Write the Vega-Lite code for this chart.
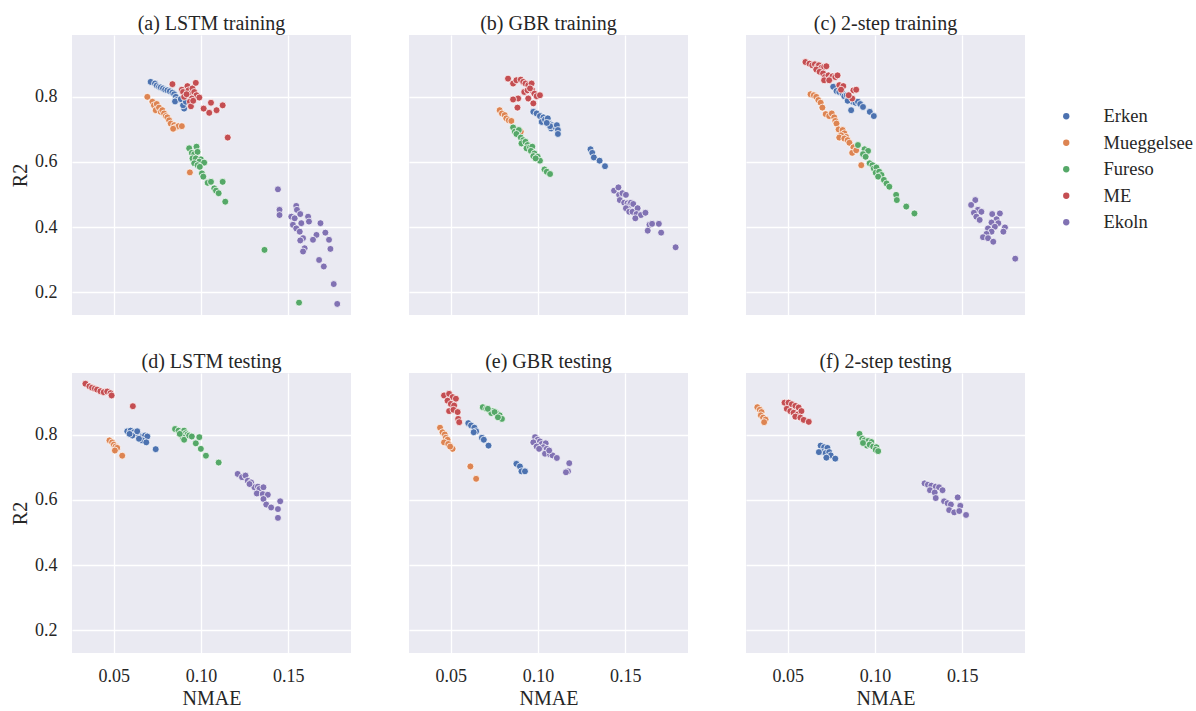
{
  "$schema": "https://vega.github.io/schema/vega-lite/v6.json",
  "background": "white",
  "padding": {"left": 10, "top": 14, "right": 5, "bottom": 5},
  "data": {"values": [
    {"panel": "(a) LSTM training", "lake": "Erken", "NMAE": 0.0711, "R2": 0.846},
    {"panel": "(a) LSTM training", "lake": "Erken", "NMAE": 0.0736, "R2": 0.841},
    {"panel": "(a) LSTM training", "lake": "Erken", "NMAE": 0.0746, "R2": 0.835},
    {"panel": "(a) LSTM training", "lake": "Erken", "NMAE": 0.0759, "R2": 0.831},
    {"panel": "(a) LSTM training", "lake": "Erken", "NMAE": 0.0769, "R2": 0.829},
    {"panel": "(a) LSTM training", "lake": "Erken", "NMAE": 0.0782, "R2": 0.826},
    {"panel": "(a) LSTM training", "lake": "Erken", "NMAE": 0.0794, "R2": 0.822},
    {"panel": "(a) LSTM training", "lake": "Erken", "NMAE": 0.0807, "R2": 0.82},
    {"panel": "(a) LSTM training", "lake": "Erken", "NMAE": 0.0821, "R2": 0.817},
    {"panel": "(a) LSTM training", "lake": "Erken", "NMAE": 0.0836, "R2": 0.813},
    {"panel": "(a) LSTM training", "lake": "Erken", "NMAE": 0.0846, "R2": 0.808},
    {"panel": "(a) LSTM training", "lake": "Erken", "NMAE": 0.0855, "R2": 0.8},
    {"panel": "(a) LSTM training", "lake": "Erken", "NMAE": 0.0859, "R2": 0.79},
    {"panel": "(a) LSTM training", "lake": "Erken", "NMAE": 0.0851, "R2": 0.786},
    {"panel": "(a) LSTM training", "lake": "Erken", "NMAE": 0.0903, "R2": 0.764},
    {"panel": "(a) LSTM training", "lake": "Erken", "NMAE": 0.0897, "R2": 0.774},
    {"panel": "(a) LSTM training", "lake": "Erken", "NMAE": 0.0884, "R2": 0.793},
    {"panel": "(a) LSTM training", "lake": "Erken", "NMAE": 0.0913, "R2": 0.785},
    {"panel": "(a) LSTM training", "lake": "Mueggelsee", "NMAE": 0.0692, "R2": 0.8},
    {"panel": "(a) LSTM training", "lake": "Mueggelsee", "NMAE": 0.0721, "R2": 0.785},
    {"panel": "(a) LSTM training", "lake": "Mueggelsee", "NMAE": 0.073, "R2": 0.774},
    {"panel": "(a) LSTM training", "lake": "Mueggelsee", "NMAE": 0.0746, "R2": 0.778},
    {"panel": "(a) LSTM training", "lake": "Mueggelsee", "NMAE": 0.074, "R2": 0.759},
    {"panel": "(a) LSTM training", "lake": "Mueggelsee", "NMAE": 0.0759, "R2": 0.767},
    {"panel": "(a) LSTM training", "lake": "Mueggelsee", "NMAE": 0.0769, "R2": 0.754},
    {"panel": "(a) LSTM training", "lake": "Mueggelsee", "NMAE": 0.0778, "R2": 0.759},
    {"panel": "(a) LSTM training", "lake": "Mueggelsee", "NMAE": 0.0788, "R2": 0.749},
    {"panel": "(a) LSTM training", "lake": "Mueggelsee", "NMAE": 0.0798, "R2": 0.741},
    {"panel": "(a) LSTM training", "lake": "Mueggelsee", "NMAE": 0.0807, "R2": 0.737},
    {"panel": "(a) LSTM training", "lake": "Mueggelsee", "NMAE": 0.0817, "R2": 0.728},
    {"panel": "(a) LSTM training", "lake": "Mueggelsee", "NMAE": 0.0826, "R2": 0.718},
    {"panel": "(a) LSTM training", "lake": "Mueggelsee", "NMAE": 0.0846, "R2": 0.713},
    {"panel": "(a) LSTM training", "lake": "Mueggelsee", "NMAE": 0.0855, "R2": 0.706},
    {"panel": "(a) LSTM training", "lake": "Mueggelsee", "NMAE": 0.0871, "R2": 0.71},
    {"panel": "(a) LSTM training", "lake": "Mueggelsee", "NMAE": 0.089, "R2": 0.71},
    {"panel": "(a) LSTM training", "lake": "Mueggelsee", "NMAE": 0.084, "R2": 0.702},
    {"panel": "(a) LSTM training", "lake": "Mueggelsee", "NMAE": 0.0936, "R2": 0.568},
    {"panel": "(a) LSTM training", "lake": "Fureso", "NMAE": 0.0932, "R2": 0.642},
    {"panel": "(a) LSTM training", "lake": "Fureso", "NMAE": 0.0974, "R2": 0.647},
    {"panel": "(a) LSTM training", "lake": "Fureso", "NMAE": 0.0947, "R2": 0.628},
    {"panel": "(a) LSTM training", "lake": "Fureso", "NMAE": 0.0961, "R2": 0.624},
    {"panel": "(a) LSTM training", "lake": "Fureso", "NMAE": 0.098, "R2": 0.631},
    {"panel": "(a) LSTM training", "lake": "Fureso", "NMAE": 0.0951, "R2": 0.611},
    {"panel": "(a) LSTM training", "lake": "Fureso", "NMAE": 0.097, "R2": 0.611},
    {"panel": "(a) LSTM training", "lake": "Fureso", "NMAE": 0.0999, "R2": 0.608},
    {"panel": "(a) LSTM training", "lake": "Fureso", "NMAE": 0.099, "R2": 0.601},
    {"panel": "(a) LSTM training", "lake": "Fureso", "NMAE": 0.1018, "R2": 0.598},
    {"panel": "(a) LSTM training", "lake": "Fureso", "NMAE": 0.0961, "R2": 0.596},
    {"panel": "(a) LSTM training", "lake": "Fureso", "NMAE": 0.098, "R2": 0.59},
    {"panel": "(a) LSTM training", "lake": "Fureso", "NMAE": 0.0993, "R2": 0.585},
    {"panel": "(a) LSTM training", "lake": "Fureso", "NMAE": 0.1005, "R2": 0.565},
    {"panel": "(a) LSTM training", "lake": "Fureso", "NMAE": 0.1013, "R2": 0.555},
    {"panel": "(a) LSTM training", "lake": "Fureso", "NMAE": 0.1038, "R2": 0.536},
    {"panel": "(a) LSTM training", "lake": "Fureso", "NMAE": 0.1057, "R2": 0.539},
    {"panel": "(a) LSTM training", "lake": "Fureso", "NMAE": 0.1124, "R2": 0.539},
    {"panel": "(a) LSTM training", "lake": "Fureso", "NMAE": 0.1076, "R2": 0.519},
    {"panel": "(a) LSTM training", "lake": "Fureso", "NMAE": 0.1086, "R2": 0.512},
    {"panel": "(a) LSTM training", "lake": "Fureso", "NMAE": 0.1101, "R2": 0.504},
    {"panel": "(a) LSTM training", "lake": "Fureso", "NMAE": 0.1139, "R2": 0.478},
    {"panel": "(a) LSTM training", "lake": "Fureso", "NMAE": 0.1364, "R2": 0.33},
    {"panel": "(a) LSTM training", "lake": "Fureso", "NMAE": 0.1562, "R2": 0.168},
    {"panel": "(a) LSTM training", "lake": "ME", "NMAE": 0.0836, "R2": 0.839},
    {"panel": "(a) LSTM training", "lake": "ME", "NMAE": 0.089, "R2": 0.822},
    {"panel": "(a) LSTM training", "lake": "ME", "NMAE": 0.0897, "R2": 0.815},
    {"panel": "(a) LSTM training", "lake": "ME", "NMAE": 0.0922, "R2": 0.833},
    {"panel": "(a) LSTM training", "lake": "ME", "NMAE": 0.0928, "R2": 0.82},
    {"panel": "(a) LSTM training", "lake": "ME", "NMAE": 0.0942, "R2": 0.81},
    {"panel": "(a) LSTM training", "lake": "ME", "NMAE": 0.0951, "R2": 0.826},
    {"panel": "(a) LSTM training", "lake": "ME", "NMAE": 0.097, "R2": 0.843},
    {"panel": "(a) LSTM training", "lake": "ME", "NMAE": 0.0961, "R2": 0.815},
    {"panel": "(a) LSTM training", "lake": "ME", "NMAE": 0.0974, "R2": 0.805},
    {"panel": "(a) LSTM training", "lake": "ME", "NMAE": 0.099, "R2": 0.798},
    {"panel": "(a) LSTM training", "lake": "ME", "NMAE": 0.0947, "R2": 0.795},
    {"panel": "(a) LSTM training", "lake": "ME", "NMAE": 0.0936, "R2": 0.785},
    {"panel": "(a) LSTM training", "lake": "ME", "NMAE": 0.0903, "R2": 0.8},
    {"panel": "(a) LSTM training", "lake": "ME", "NMAE": 0.0942, "R2": 0.771},
    {"panel": "(a) LSTM training", "lake": "ME", "NMAE": 0.1015, "R2": 0.764},
    {"panel": "(a) LSTM training", "lake": "ME", "NMAE": 0.1047, "R2": 0.751},
    {"panel": "(a) LSTM training", "lake": "ME", "NMAE": 0.1057, "R2": 0.782},
    {"panel": "(a) LSTM training", "lake": "ME", "NMAE": 0.1089, "R2": 0.759},
    {"panel": "(a) LSTM training", "lake": "ME", "NMAE": 0.1124, "R2": 0.774},
    {"panel": "(a) LSTM training", "lake": "ME", "NMAE": 0.1153, "R2": 0.675},
    {"panel": "(a) LSTM training", "lake": "ME", "NMAE": 0.0917, "R2": 0.808},
    {"panel": "(a) LSTM training", "lake": "ME", "NMAE": 0.0955, "R2": 0.788},
    {"panel": "(a) LSTM training", "lake": "Ekoln", "NMAE": 0.1441, "R2": 0.516},
    {"panel": "(a) LSTM training", "lake": "Ekoln", "NMAE": 0.145, "R2": 0.453},
    {"panel": "(a) LSTM training", "lake": "Ekoln", "NMAE": 0.145, "R2": 0.437},
    {"panel": "(a) LSTM training", "lake": "Ekoln", "NMAE": 0.1546, "R2": 0.465},
    {"panel": "(a) LSTM training", "lake": "Ekoln", "NMAE": 0.155, "R2": 0.453},
    {"panel": "(a) LSTM training", "lake": "Ekoln", "NMAE": 0.1518, "R2": 0.432},
    {"panel": "(a) LSTM training", "lake": "Ekoln", "NMAE": 0.1537, "R2": 0.427},
    {"panel": "(a) LSTM training", "lake": "Ekoln", "NMAE": 0.1569, "R2": 0.44},
    {"panel": "(a) LSTM training", "lake": "Ekoln", "NMAE": 0.1614, "R2": 0.432},
    {"panel": "(a) LSTM training", "lake": "Ekoln", "NMAE": 0.1619, "R2": 0.417},
    {"panel": "(a) LSTM training", "lake": "Ekoln", "NMAE": 0.1575, "R2": 0.412},
    {"panel": "(a) LSTM training", "lake": "Ekoln", "NMAE": 0.1527, "R2": 0.407},
    {"panel": "(a) LSTM training", "lake": "Ekoln", "NMAE": 0.1546, "R2": 0.396},
    {"panel": "(a) LSTM training", "lake": "Ekoln", "NMAE": 0.1566, "R2": 0.386},
    {"panel": "(a) LSTM training", "lake": "Ekoln", "NMAE": 0.1685, "R2": 0.412},
    {"panel": "(a) LSTM training", "lake": "Ekoln", "NMAE": 0.1662, "R2": 0.376},
    {"panel": "(a) LSTM training", "lake": "Ekoln", "NMAE": 0.1713, "R2": 0.383},
    {"panel": "(a) LSTM training", "lake": "Ekoln", "NMAE": 0.1642, "R2": 0.361},
    {"panel": "(a) LSTM training", "lake": "Ekoln", "NMAE": 0.1585, "R2": 0.366},
    {"panel": "(a) LSTM training", "lake": "Ekoln", "NMAE": 0.1569, "R2": 0.359},
    {"panel": "(a) LSTM training", "lake": "Ekoln", "NMAE": 0.1734, "R2": 0.361},
    {"panel": "(a) LSTM training", "lake": "Ekoln", "NMAE": 0.1742, "R2": 0.333},
    {"panel": "(a) LSTM training", "lake": "Ekoln", "NMAE": 0.1594, "R2": 0.335},
    {"panel": "(a) LSTM training", "lake": "Ekoln", "NMAE": 0.1585, "R2": 0.325},
    {"panel": "(a) LSTM training", "lake": "Ekoln", "NMAE": 0.1677, "R2": 0.299},
    {"panel": "(a) LSTM training", "lake": "Ekoln", "NMAE": 0.1704, "R2": 0.279},
    {"panel": "(a) LSTM training", "lake": "Ekoln", "NMAE": 0.1761, "R2": 0.225},
    {"panel": "(a) LSTM training", "lake": "Ekoln", "NMAE": 0.1781, "R2": 0.164},

    {"panel": "(b) GBR training", "lake": "Erken", "NMAE": 0.0973, "R2": 0.754},
    {"panel": "(b) GBR training", "lake": "Erken", "NMAE": 0.0992, "R2": 0.749},
    {"panel": "(b) GBR training", "lake": "Erken", "NMAE": 0.1011, "R2": 0.741},
    {"panel": "(b) GBR training", "lake": "Erken", "NMAE": 0.1031, "R2": 0.737},
    {"panel": "(b) GBR training", "lake": "Erken", "NMAE": 0.1021, "R2": 0.723},
    {"panel": "(b) GBR training", "lake": "Erken", "NMAE": 0.104, "R2": 0.73},
    {"panel": "(b) GBR training", "lake": "Erken", "NMAE": 0.1056, "R2": 0.734},
    {"panel": "(b) GBR training", "lake": "Erken", "NMAE": 0.1064, "R2": 0.718},
    {"panel": "(b) GBR training", "lake": "Erken", "NMAE": 0.1079, "R2": 0.713},
    {"panel": "(b) GBR training", "lake": "Erken", "NMAE": 0.1075, "R2": 0.703},
    {"panel": "(b) GBR training", "lake": "Erken", "NMAE": 0.1094, "R2": 0.708},
    {"panel": "(b) GBR training", "lake": "Erken", "NMAE": 0.1108, "R2": 0.713},
    {"panel": "(b) GBR training", "lake": "Erken", "NMAE": 0.1114, "R2": 0.698},
    {"panel": "(b) GBR training", "lake": "Erken", "NMAE": 0.1114, "R2": 0.686},
    {"panel": "(b) GBR training", "lake": "Erken", "NMAE": 0.1069, "R2": 0.71},
    {"panel": "(b) GBR training", "lake": "Erken", "NMAE": 0.105, "R2": 0.72},
    {"panel": "(b) GBR training", "lake": "Erken", "NMAE": 0.1301, "R2": 0.639},
    {"panel": "(b) GBR training", "lake": "Erken", "NMAE": 0.1311, "R2": 0.628},
    {"panel": "(b) GBR training", "lake": "Erken", "NMAE": 0.132, "R2": 0.614},
    {"panel": "(b) GBR training", "lake": "Erken", "NMAE": 0.1353, "R2": 0.604},
    {"panel": "(b) GBR training", "lake": "Erken", "NMAE": 0.1384, "R2": 0.587},
    {"panel": "(b) GBR training", "lake": "Mueggelsee", "NMAE": 0.078, "R2": 0.759},
    {"panel": "(b) GBR training", "lake": "Mueggelsee", "NMAE": 0.0793, "R2": 0.749},
    {"panel": "(b) GBR training", "lake": "Mueggelsee", "NMAE": 0.0809, "R2": 0.744},
    {"panel": "(b) GBR training", "lake": "Mueggelsee", "NMAE": 0.0818, "R2": 0.734},
    {"panel": "(b) GBR training", "lake": "Mueggelsee", "NMAE": 0.0832, "R2": 0.728},
    {"panel": "(b) GBR training", "lake": "Mueggelsee", "NMAE": 0.0847, "R2": 0.726},
    {"panel": "(b) GBR training", "lake": "Mueggelsee", "NMAE": 0.0901, "R2": 0.693},
    {"panel": "(b) GBR training", "lake": "Fureso", "NMAE": 0.0857, "R2": 0.706},
    {"panel": "(b) GBR training", "lake": "Fureso", "NMAE": 0.0867, "R2": 0.693},
    {"panel": "(b) GBR training", "lake": "Fureso", "NMAE": 0.089, "R2": 0.698},
    {"panel": "(b) GBR training", "lake": "Fureso", "NMAE": 0.0876, "R2": 0.686},
    {"panel": "(b) GBR training", "lake": "Fureso", "NMAE": 0.0901, "R2": 0.675},
    {"panel": "(b) GBR training", "lake": "Fureso", "NMAE": 0.0915, "R2": 0.667},
    {"panel": "(b) GBR training", "lake": "Fureso", "NMAE": 0.0905, "R2": 0.657},
    {"panel": "(b) GBR training", "lake": "Fureso", "NMAE": 0.0928, "R2": 0.662},
    {"panel": "(b) GBR training", "lake": "Fureso", "NMAE": 0.094, "R2": 0.652},
    {"panel": "(b) GBR training", "lake": "Fureso", "NMAE": 0.0934, "R2": 0.642},
    {"panel": "(b) GBR training", "lake": "Fureso", "NMAE": 0.0954, "R2": 0.645},
    {"panel": "(b) GBR training", "lake": "Fureso", "NMAE": 0.0967, "R2": 0.647},
    {"panel": "(b) GBR training", "lake": "Fureso", "NMAE": 0.0959, "R2": 0.634},
    {"panel": "(b) GBR training", "lake": "Fureso", "NMAE": 0.0979, "R2": 0.626},
    {"panel": "(b) GBR training", "lake": "Fureso", "NMAE": 0.0973, "R2": 0.618},
    {"panel": "(b) GBR training", "lake": "Fureso", "NMAE": 0.0998, "R2": 0.616},
    {"panel": "(b) GBR training", "lake": "Fureso", "NMAE": 0.1011, "R2": 0.604},
    {"panel": "(b) GBR training", "lake": "Fureso", "NMAE": 0.1037, "R2": 0.577},
    {"panel": "(b) GBR training", "lake": "Fureso", "NMAE": 0.105, "R2": 0.57},
    {"panel": "(b) GBR training", "lake": "Fureso", "NMAE": 0.1069, "R2": 0.563},
    {"panel": "(b) GBR training", "lake": "Fureso", "NMAE": 0.0986, "R2": 0.611},
    {"panel": "(b) GBR training", "lake": "ME", "NMAE": 0.0828, "R2": 0.856},
    {"panel": "(b) GBR training", "lake": "ME", "NMAE": 0.0857, "R2": 0.841},
    {"panel": "(b) GBR training", "lake": "ME", "NMAE": 0.0876, "R2": 0.851},
    {"panel": "(b) GBR training", "lake": "ME", "NMAE": 0.0901, "R2": 0.853},
    {"panel": "(b) GBR training", "lake": "ME", "NMAE": 0.0915, "R2": 0.846},
    {"panel": "(b) GBR training", "lake": "ME", "NMAE": 0.0928, "R2": 0.841},
    {"panel": "(b) GBR training", "lake": "ME", "NMAE": 0.0944, "R2": 0.836},
    {"panel": "(b) GBR training", "lake": "ME", "NMAE": 0.0963, "R2": 0.841},
    {"panel": "(b) GBR training", "lake": "ME", "NMAE": 0.0921, "R2": 0.815},
    {"panel": "(b) GBR training", "lake": "ME", "NMAE": 0.094, "R2": 0.82},
    {"panel": "(b) GBR training", "lake": "ME", "NMAE": 0.0967, "R2": 0.82},
    {"panel": "(b) GBR training", "lake": "ME", "NMAE": 0.0979, "R2": 0.81},
    {"panel": "(b) GBR training", "lake": "ME", "NMAE": 0.0992, "R2": 0.802},
    {"panel": "(b) GBR training", "lake": "ME", "NMAE": 0.1011, "R2": 0.805},
    {"panel": "(b) GBR training", "lake": "ME", "NMAE": 0.0944, "R2": 0.795},
    {"panel": "(b) GBR training", "lake": "ME", "NMAE": 0.0973, "R2": 0.78},
    {"panel": "(b) GBR training", "lake": "ME", "NMAE": 0.0886, "R2": 0.795},
    {"panel": "(b) GBR training", "lake": "ME", "NMAE": 0.0857, "R2": 0.792},
    {"panel": "(b) GBR training", "lake": "ME", "NMAE": 0.0882, "R2": 0.767},
    {"panel": "(b) GBR training", "lake": "ME", "NMAE": 0.0954, "R2": 0.826},
    {"panel": "(b) GBR training", "lake": "Ekoln", "NMAE": 0.1436, "R2": 0.512},
    {"panel": "(b) GBR training", "lake": "Ekoln", "NMAE": 0.1461, "R2": 0.522},
    {"panel": "(b) GBR training", "lake": "Ekoln", "NMAE": 0.1465, "R2": 0.499},
    {"panel": "(b) GBR training", "lake": "Ekoln", "NMAE": 0.1484, "R2": 0.504},
    {"panel": "(b) GBR training", "lake": "Ekoln", "NMAE": 0.1504, "R2": 0.499},
    {"panel": "(b) GBR training", "lake": "Ekoln", "NMAE": 0.1469, "R2": 0.483},
    {"panel": "(b) GBR training", "lake": "Ekoln", "NMAE": 0.1494, "R2": 0.475},
    {"panel": "(b) GBR training", "lake": "Ekoln", "NMAE": 0.1513, "R2": 0.473},
    {"panel": "(b) GBR training", "lake": "Ekoln", "NMAE": 0.1523, "R2": 0.468},
    {"panel": "(b) GBR training", "lake": "Ekoln", "NMAE": 0.1533, "R2": 0.475},
    {"panel": "(b) GBR training", "lake": "Ekoln", "NMAE": 0.1546, "R2": 0.471},
    {"panel": "(b) GBR training", "lake": "Ekoln", "NMAE": 0.1504, "R2": 0.458},
    {"panel": "(b) GBR training", "lake": "Ekoln", "NMAE": 0.1523, "R2": 0.447},
    {"panel": "(b) GBR training", "lake": "Ekoln", "NMAE": 0.1542, "R2": 0.447},
    {"panel": "(b) GBR training", "lake": "Ekoln", "NMAE": 0.1571, "R2": 0.458},
    {"panel": "(b) GBR training", "lake": "Ekoln", "NMAE": 0.1565, "R2": 0.44},
    {"panel": "(b) GBR training", "lake": "Ekoln", "NMAE": 0.159, "R2": 0.437},
    {"panel": "(b) GBR training", "lake": "Ekoln", "NMAE": 0.1616, "R2": 0.444},
    {"panel": "(b) GBR training", "lake": "Ekoln", "NMAE": 0.1558, "R2": 0.427},
    {"panel": "(b) GBR training", "lake": "Ekoln", "NMAE": 0.1639, "R2": 0.407},
    {"panel": "(b) GBR training", "lake": "Ekoln", "NMAE": 0.1654, "R2": 0.41},
    {"panel": "(b) GBR training", "lake": "Ekoln", "NMAE": 0.1693, "R2": 0.41},
    {"panel": "(b) GBR training", "lake": "Ekoln", "NMAE": 0.1629, "R2": 0.389},
    {"panel": "(b) GBR training", "lake": "Ekoln", "NMAE": 0.1706, "R2": 0.383},
    {"panel": "(b) GBR training", "lake": "Ekoln", "NMAE": 0.1789, "R2": 0.338},

    {"panel": "(c) 2-step training", "lake": "Erken", "NMAE": 0.076, "R2": 0.831},
    {"panel": "(c) 2-step training", "lake": "Erken", "NMAE": 0.0779, "R2": 0.818},
    {"panel": "(c) 2-step training", "lake": "Erken", "NMAE": 0.0795, "R2": 0.815},
    {"panel": "(c) 2-step training", "lake": "Erken", "NMAE": 0.0814, "R2": 0.81},
    {"panel": "(c) 2-step training", "lake": "Erken", "NMAE": 0.0824, "R2": 0.802},
    {"panel": "(c) 2-step training", "lake": "Erken", "NMAE": 0.0838, "R2": 0.805},
    {"panel": "(c) 2-step training", "lake": "Erken", "NMAE": 0.0849, "R2": 0.795},
    {"panel": "(c) 2-step training", "lake": "Erken", "NMAE": 0.0857, "R2": 0.788},
    {"panel": "(c) 2-step training", "lake": "Erken", "NMAE": 0.0872, "R2": 0.785},
    {"panel": "(c) 2-step training", "lake": "Erken", "NMAE": 0.0888, "R2": 0.782},
    {"panel": "(c) 2-step training", "lake": "Erken", "NMAE": 0.0902, "R2": 0.785},
    {"panel": "(c) 2-step training", "lake": "Erken", "NMAE": 0.0915, "R2": 0.778},
    {"panel": "(c) 2-step training", "lake": "Erken", "NMAE": 0.0931, "R2": 0.769},
    {"panel": "(c) 2-step training", "lake": "Erken", "NMAE": 0.097, "R2": 0.754},
    {"panel": "(c) 2-step training", "lake": "Erken", "NMAE": 0.0993, "R2": 0.741},
    {"panel": "(c) 2-step training", "lake": "Erken", "NMAE": 0.0863, "R2": 0.759},
    {"panel": "(c) 2-step training", "lake": "Erken", "NMAE": 0.0843, "R2": 0.788},
    {"panel": "(c) 2-step training", "lake": "Mueggelsee", "NMAE": 0.063, "R2": 0.808},
    {"panel": "(c) 2-step training", "lake": "Mueggelsee", "NMAE": 0.0649, "R2": 0.805},
    {"panel": "(c) 2-step training", "lake": "Mueggelsee", "NMAE": 0.0663, "R2": 0.8},
    {"panel": "(c) 2-step training", "lake": "Mueggelsee", "NMAE": 0.0675, "R2": 0.79},
    {"panel": "(c) 2-step training", "lake": "Mueggelsee", "NMAE": 0.0688, "R2": 0.782},
    {"panel": "(c) 2-step training", "lake": "Mueggelsee", "NMAE": 0.0698, "R2": 0.767},
    {"panel": "(c) 2-step training", "lake": "Mueggelsee", "NMAE": 0.0717, "R2": 0.747},
    {"panel": "(c) 2-step training", "lake": "Mueggelsee", "NMAE": 0.0737, "R2": 0.741},
    {"panel": "(c) 2-step training", "lake": "Mueggelsee", "NMAE": 0.0752, "R2": 0.749},
    {"panel": "(c) 2-step training", "lake": "Mueggelsee", "NMAE": 0.0766, "R2": 0.737},
    {"panel": "(c) 2-step training", "lake": "Mueggelsee", "NMAE": 0.0772, "R2": 0.726},
    {"panel": "(c) 2-step training", "lake": "Mueggelsee", "NMAE": 0.0779, "R2": 0.718},
    {"panel": "(c) 2-step training", "lake": "Mueggelsee", "NMAE": 0.0791, "R2": 0.7},
    {"panel": "(c) 2-step training", "lake": "Mueggelsee", "NMAE": 0.0814, "R2": 0.698},
    {"panel": "(c) 2-step training", "lake": "Mueggelsee", "NMAE": 0.0824, "R2": 0.688},
    {"panel": "(c) 2-step training", "lake": "Mueggelsee", "NMAE": 0.0834, "R2": 0.677},
    {"panel": "(c) 2-step training", "lake": "Mueggelsee", "NMAE": 0.0805, "R2": 0.682},
    {"panel": "(c) 2-step training", "lake": "Mueggelsee", "NMAE": 0.0795, "R2": 0.675},
    {"panel": "(c) 2-step training", "lake": "Mueggelsee", "NMAE": 0.0824, "R2": 0.672},
    {"panel": "(c) 2-step training", "lake": "Mueggelsee", "NMAE": 0.0843, "R2": 0.667},
    {"panel": "(c) 2-step training", "lake": "Mueggelsee", "NMAE": 0.0853, "R2": 0.659},
    {"panel": "(c) 2-step training", "lake": "Mueggelsee", "NMAE": 0.0876, "R2": 0.645},
    {"panel": "(c) 2-step training", "lake": "Mueggelsee", "NMAE": 0.0869, "R2": 0.628},
    {"panel": "(c) 2-step training", "lake": "Mueggelsee", "NMAE": 0.0892, "R2": 0.636},
    {"panel": "(c) 2-step training", "lake": "Mueggelsee", "NMAE": 0.0921, "R2": 0.59},
    {"panel": "(c) 2-step training", "lake": "Fureso", "NMAE": 0.0902, "R2": 0.652},
    {"panel": "(c) 2-step training", "lake": "Fureso", "NMAE": 0.094, "R2": 0.639},
    {"panel": "(c) 2-step training", "lake": "Fureso", "NMAE": 0.096, "R2": 0.634},
    {"panel": "(c) 2-step training", "lake": "Fureso", "NMAE": 0.0931, "R2": 0.624},
    {"panel": "(c) 2-step training", "lake": "Fureso", "NMAE": 0.0946, "R2": 0.616},
    {"panel": "(c) 2-step training", "lake": "Fureso", "NMAE": 0.0969, "R2": 0.596},
    {"panel": "(c) 2-step training", "lake": "Fureso", "NMAE": 0.0985, "R2": 0.59},
    {"panel": "(c) 2-step training", "lake": "Fureso", "NMAE": 0.0993, "R2": 0.58},
    {"panel": "(c) 2-step training", "lake": "Fureso", "NMAE": 0.1008, "R2": 0.583},
    {"panel": "(c) 2-step training", "lake": "Fureso", "NMAE": 0.1004, "R2": 0.567},
    {"panel": "(c) 2-step training", "lake": "Fureso", "NMAE": 0.1024, "R2": 0.57},
    {"panel": "(c) 2-step training", "lake": "Fureso", "NMAE": 0.1037, "R2": 0.56},
    {"panel": "(c) 2-step training", "lake": "Fureso", "NMAE": 0.1018, "R2": 0.555},
    {"panel": "(c) 2-step training", "lake": "Fureso", "NMAE": 0.1051, "R2": 0.545},
    {"panel": "(c) 2-step training", "lake": "Fureso", "NMAE": 0.1066, "R2": 0.534},
    {"panel": "(c) 2-step training", "lake": "Fureso", "NMAE": 0.1082, "R2": 0.524},
    {"panel": "(c) 2-step training", "lake": "Fureso", "NMAE": 0.1121, "R2": 0.499},
    {"panel": "(c) 2-step training", "lake": "Fureso", "NMAE": 0.1125, "R2": 0.483},
    {"panel": "(c) 2-step training", "lake": "Fureso", "NMAE": 0.1179, "R2": 0.463},
    {"panel": "(c) 2-step training", "lake": "Fureso", "NMAE": 0.1226, "R2": 0.442},
    {"panel": "(c) 2-step training", "lake": "ME", "NMAE": 0.0601, "R2": 0.907},
    {"panel": "(c) 2-step training", "lake": "ME", "NMAE": 0.0624, "R2": 0.902},
    {"panel": "(c) 2-step training", "lake": "ME", "NMAE": 0.064, "R2": 0.897},
    {"panel": "(c) 2-step training", "lake": "ME", "NMAE": 0.0655, "R2": 0.9},
    {"panel": "(c) 2-step training", "lake": "ME", "NMAE": 0.0669, "R2": 0.892},
    {"panel": "(c) 2-step training", "lake": "ME", "NMAE": 0.0678, "R2": 0.897},
    {"panel": "(c) 2-step training", "lake": "ME", "NMAE": 0.0694, "R2": 0.89},
    {"panel": "(c) 2-step training", "lake": "ME", "NMAE": 0.0708, "R2": 0.892},
    {"panel": "(c) 2-step training", "lake": "ME", "NMAE": 0.0721, "R2": 0.894},
    {"panel": "(c) 2-step training", "lake": "ME", "NMAE": 0.0663, "R2": 0.884},
    {"panel": "(c) 2-step training", "lake": "ME", "NMAE": 0.0682, "R2": 0.877},
    {"panel": "(c) 2-step training", "lake": "ME", "NMAE": 0.0702, "R2": 0.872},
    {"panel": "(c) 2-step training", "lake": "ME", "NMAE": 0.0713, "R2": 0.861},
    {"panel": "(c) 2-step training", "lake": "ME", "NMAE": 0.0733, "R2": 0.866},
    {"panel": "(c) 2-step training", "lake": "ME", "NMAE": 0.0746, "R2": 0.856},
    {"panel": "(c) 2-step training", "lake": "ME", "NMAE": 0.0756, "R2": 0.863},
    {"panel": "(c) 2-step training", "lake": "ME", "NMAE": 0.0772, "R2": 0.861},
    {"panel": "(c) 2-step training", "lake": "ME", "NMAE": 0.0785, "R2": 0.866},
    {"panel": "(c) 2-step training", "lake": "ME", "NMAE": 0.0708, "R2": 0.851},
    {"panel": "(c) 2-step training", "lake": "ME", "NMAE": 0.0737, "R2": 0.851},
    {"panel": "(c) 2-step training", "lake": "ME", "NMAE": 0.0795, "R2": 0.836},
    {"panel": "(c) 2-step training", "lake": "ME", "NMAE": 0.0818, "R2": 0.833},
    {"panel": "(c) 2-step training", "lake": "ME", "NMAE": 0.0805, "R2": 0.822},
    {"panel": "(c) 2-step training", "lake": "ME", "NMAE": 0.0876, "R2": 0.82},
    {"panel": "(c) 2-step training", "lake": "ME", "NMAE": 0.0892, "R2": 0.822},
    {"panel": "(c) 2-step training", "lake": "ME", "NMAE": 0.0869, "R2": 0.795},
    {"panel": "(c) 2-step training", "lake": "ME", "NMAE": 0.0849, "R2": 0.805},
    {"panel": "(c) 2-step training", "lake": "Ekoln", "NMAE": 0.1575, "R2": 0.483},
    {"panel": "(c) 2-step training", "lake": "Ekoln", "NMAE": 0.1551, "R2": 0.468},
    {"panel": "(c) 2-step training", "lake": "Ekoln", "NMAE": 0.159, "R2": 0.453},
    {"panel": "(c) 2-step training", "lake": "Ekoln", "NMAE": 0.1567, "R2": 0.444},
    {"panel": "(c) 2-step training", "lake": "Ekoln", "NMAE": 0.161, "R2": 0.447},
    {"panel": "(c) 2-step training", "lake": "Ekoln", "NMAE": 0.1581, "R2": 0.432},
    {"panel": "(c) 2-step training", "lake": "Ekoln", "NMAE": 0.16, "R2": 0.422},
    {"panel": "(c) 2-step training", "lake": "Ekoln", "NMAE": 0.1672, "R2": 0.44},
    {"panel": "(c) 2-step training", "lake": "Ekoln", "NMAE": 0.1716, "R2": 0.442},
    {"panel": "(c) 2-step training", "lake": "Ekoln", "NMAE": 0.1697, "R2": 0.424},
    {"panel": "(c) 2-step training", "lake": "Ekoln", "NMAE": 0.1668, "R2": 0.414},
    {"panel": "(c) 2-step training", "lake": "Ekoln", "NMAE": 0.1707, "R2": 0.412},
    {"panel": "(c) 2-step training", "lake": "Ekoln", "NMAE": 0.1745, "R2": 0.399},
    {"panel": "(c) 2-step training", "lake": "Ekoln", "NMAE": 0.1687, "R2": 0.401},
    {"panel": "(c) 2-step training", "lake": "Ekoln", "NMAE": 0.1648, "R2": 0.396},
    {"panel": "(c) 2-step training", "lake": "Ekoln", "NMAE": 0.1736, "R2": 0.386},
    {"panel": "(c) 2-step training", "lake": "Ekoln", "NMAE": 0.1668, "R2": 0.386},
    {"panel": "(c) 2-step training", "lake": "Ekoln", "NMAE": 0.1639, "R2": 0.379},
    {"panel": "(c) 2-step training", "lake": "Ekoln", "NMAE": 0.1619, "R2": 0.369},
    {"panel": "(c) 2-step training", "lake": "Ekoln", "NMAE": 0.1648, "R2": 0.366},
    {"panel": "(c) 2-step training", "lake": "Ekoln", "NMAE": 0.1678, "R2": 0.355},
    {"panel": "(c) 2-step training", "lake": "Ekoln", "NMAE": 0.1804, "R2": 0.303},

    {"panel": "(d) LSTM testing", "lake": "Erken", "NMAE": 0.0577, "R2": 0.811},
    {"panel": "(d) LSTM testing", "lake": "Erken", "NMAE": 0.0596, "R2": 0.813},
    {"panel": "(d) LSTM testing", "lake": "Erken", "NMAE": 0.0615, "R2": 0.808},
    {"panel": "(d) LSTM testing", "lake": "Erken", "NMAE": 0.0629, "R2": 0.803},
    {"panel": "(d) LSTM testing", "lake": "Erken", "NMAE": 0.0644, "R2": 0.798},
    {"panel": "(d) LSTM testing", "lake": "Erken", "NMAE": 0.0659, "R2": 0.793},
    {"panel": "(d) LSTM testing", "lake": "Erken", "NMAE": 0.0679, "R2": 0.798},
    {"panel": "(d) LSTM testing", "lake": "Erken", "NMAE": 0.0692, "R2": 0.795},
    {"panel": "(d) LSTM testing", "lake": "Erken", "NMAE": 0.0663, "R2": 0.783},
    {"panel": "(d) LSTM testing", "lake": "Erken", "NMAE": 0.0686, "R2": 0.777},
    {"panel": "(d) LSTM testing", "lake": "Erken", "NMAE": 0.0644, "R2": 0.788},
    {"panel": "(d) LSTM testing", "lake": "Erken", "NMAE": 0.0606, "R2": 0.798},
    {"panel": "(d) LSTM testing", "lake": "Erken", "NMAE": 0.059, "R2": 0.803},
    {"panel": "(d) LSTM testing", "lake": "Erken", "NMAE": 0.074, "R2": 0.756},
    {"panel": "(d) LSTM testing", "lake": "Erken", "NMAE": 0.0634, "R2": 0.811},
    {"panel": "(d) LSTM testing", "lake": "Mueggelsee", "NMAE": 0.0475, "R2": 0.783},
    {"panel": "(d) LSTM testing", "lake": "Mueggelsee", "NMAE": 0.049, "R2": 0.777},
    {"panel": "(d) LSTM testing", "lake": "Mueggelsee", "NMAE": 0.05, "R2": 0.77},
    {"panel": "(d) LSTM testing", "lake": "Mueggelsee", "NMAE": 0.051, "R2": 0.764},
    {"panel": "(d) LSTM testing", "lake": "Mueggelsee", "NMAE": 0.0519, "R2": 0.76},
    {"panel": "(d) LSTM testing", "lake": "Mueggelsee", "NMAE": 0.0506, "R2": 0.752},
    {"panel": "(d) LSTM testing", "lake": "Mueggelsee", "NMAE": 0.0548, "R2": 0.736},
    {"panel": "(d) LSTM testing", "lake": "Fureso", "NMAE": 0.0851, "R2": 0.818},
    {"panel": "(d) LSTM testing", "lake": "Fureso", "NMAE": 0.0871, "R2": 0.813},
    {"panel": "(d) LSTM testing", "lake": "Fureso", "NMAE": 0.089, "R2": 0.808},
    {"panel": "(d) LSTM testing", "lake": "Fureso", "NMAE": 0.0903, "R2": 0.813},
    {"panel": "(d) LSTM testing", "lake": "Fureso", "NMAE": 0.0913, "R2": 0.805},
    {"panel": "(d) LSTM testing", "lake": "Fureso", "NMAE": 0.0922, "R2": 0.801},
    {"panel": "(d) LSTM testing", "lake": "Fureso", "NMAE": 0.0894, "R2": 0.793},
    {"panel": "(d) LSTM testing", "lake": "Fureso", "NMAE": 0.0903, "R2": 0.785},
    {"panel": "(d) LSTM testing", "lake": "Fureso", "NMAE": 0.0932, "R2": 0.798},
    {"panel": "(d) LSTM testing", "lake": "Fureso", "NMAE": 0.0947, "R2": 0.795},
    {"panel": "(d) LSTM testing", "lake": "Fureso", "NMAE": 0.099, "R2": 0.793},
    {"panel": "(d) LSTM testing", "lake": "Fureso", "NMAE": 0.097, "R2": 0.774},
    {"panel": "(d) LSTM testing", "lake": "Fureso", "NMAE": 0.0999, "R2": 0.757},
    {"panel": "(d) LSTM testing", "lake": "Fureso", "NMAE": 0.1028, "R2": 0.736},
    {"panel": "(d) LSTM testing", "lake": "Fureso", "NMAE": 0.1101, "R2": 0.715},
    {"panel": "(d) LSTM testing", "lake": "Fureso", "NMAE": 0.0878, "R2": 0.803},
    {"panel": "(d) LSTM testing", "lake": "ME", "NMAE": 0.0337, "R2": 0.957},
    {"panel": "(d) LSTM testing", "lake": "ME", "NMAE": 0.036, "R2": 0.949},
    {"panel": "(d) LSTM testing", "lake": "ME", "NMAE": 0.0375, "R2": 0.945},
    {"panel": "(d) LSTM testing", "lake": "ME", "NMAE": 0.0391, "R2": 0.942},
    {"panel": "(d) LSTM testing", "lake": "ME", "NMAE": 0.0404, "R2": 0.939},
    {"panel": "(d) LSTM testing", "lake": "ME", "NMAE": 0.0423, "R2": 0.934},
    {"panel": "(d) LSTM testing", "lake": "ME", "NMAE": 0.0442, "R2": 0.931},
    {"panel": "(d) LSTM testing", "lake": "ME", "NMAE": 0.0462, "R2": 0.933},
    {"panel": "(d) LSTM testing", "lake": "ME", "NMAE": 0.0481, "R2": 0.928},
    {"panel": "(d) LSTM testing", "lake": "ME", "NMAE": 0.0487, "R2": 0.921},
    {"panel": "(d) LSTM testing", "lake": "ME", "NMAE": 0.0609, "R2": 0.888},
    {"panel": "(d) LSTM testing", "lake": "Ekoln", "NMAE": 0.121, "R2": 0.68},
    {"panel": "(d) LSTM testing", "lake": "Ekoln", "NMAE": 0.1235, "R2": 0.67},
    {"panel": "(d) LSTM testing", "lake": "Ekoln", "NMAE": 0.1255, "R2": 0.675},
    {"panel": "(d) LSTM testing", "lake": "Ekoln", "NMAE": 0.1268, "R2": 0.659},
    {"panel": "(d) LSTM testing", "lake": "Ekoln", "NMAE": 0.1287, "R2": 0.654},
    {"panel": "(d) LSTM testing", "lake": "Ekoln", "NMAE": 0.1306, "R2": 0.639},
    {"panel": "(d) LSTM testing", "lake": "Ekoln", "NMAE": 0.1326, "R2": 0.641},
    {"panel": "(d) LSTM testing", "lake": "Ekoln", "NMAE": 0.1335, "R2": 0.634},
    {"panel": "(d) LSTM testing", "lake": "Ekoln", "NMAE": 0.1358, "R2": 0.639},
    {"panel": "(d) LSTM testing", "lake": "Ekoln", "NMAE": 0.132, "R2": 0.62},
    {"panel": "(d) LSTM testing", "lake": "Ekoln", "NMAE": 0.1354, "R2": 0.618},
    {"panel": "(d) LSTM testing", "lake": "Ekoln", "NMAE": 0.1383, "R2": 0.616},
    {"panel": "(d) LSTM testing", "lake": "Ekoln", "NMAE": 0.1358, "R2": 0.603},
    {"panel": "(d) LSTM testing", "lake": "Ekoln", "NMAE": 0.1374, "R2": 0.586},
    {"panel": "(d) LSTM testing", "lake": "Ekoln", "NMAE": 0.1402, "R2": 0.577},
    {"panel": "(d) LSTM testing", "lake": "Ekoln", "NMAE": 0.1441, "R2": 0.572},
    {"panel": "(d) LSTM testing", "lake": "Ekoln", "NMAE": 0.1454, "R2": 0.596},
    {"panel": "(d) LSTM testing", "lake": "Ekoln", "NMAE": 0.1441, "R2": 0.545},
    {"panel": "(d) LSTM testing", "lake": "Ekoln", "NMAE": 0.1278, "R2": 0.649},

    {"panel": "(e) GBR testing", "lake": "Erken", "NMAE": 0.06, "R2": 0.836},
    {"panel": "(e) GBR testing", "lake": "Erken", "NMAE": 0.0616, "R2": 0.829},
    {"panel": "(e) GBR testing", "lake": "Erken", "NMAE": 0.0635, "R2": 0.822},
    {"panel": "(e) GBR testing", "lake": "Erken", "NMAE": 0.0645, "R2": 0.811},
    {"panel": "(e) GBR testing", "lake": "Erken", "NMAE": 0.0631, "R2": 0.808},
    {"panel": "(e) GBR testing", "lake": "Erken", "NMAE": 0.0678, "R2": 0.791},
    {"panel": "(e) GBR testing", "lake": "Erken", "NMAE": 0.0689, "R2": 0.785},
    {"panel": "(e) GBR testing", "lake": "Erken", "NMAE": 0.0716, "R2": 0.767},
    {"panel": "(e) GBR testing", "lake": "Erken", "NMAE": 0.0876, "R2": 0.711},
    {"panel": "(e) GBR testing", "lake": "Erken", "NMAE": 0.0896, "R2": 0.703},
    {"panel": "(e) GBR testing", "lake": "Erken", "NMAE": 0.0905, "R2": 0.688},
    {"panel": "(e) GBR testing", "lake": "Erken", "NMAE": 0.0925, "R2": 0.688},
    {"panel": "(e) GBR testing", "lake": "Mueggelsee", "NMAE": 0.0438, "R2": 0.822},
    {"panel": "(e) GBR testing", "lake": "Mueggelsee", "NMAE": 0.0452, "R2": 0.808},
    {"panel": "(e) GBR testing", "lake": "Mueggelsee", "NMAE": 0.0465, "R2": 0.801},
    {"panel": "(e) GBR testing", "lake": "Mueggelsee", "NMAE": 0.0471, "R2": 0.791},
    {"panel": "(e) GBR testing", "lake": "Mueggelsee", "NMAE": 0.0481, "R2": 0.785},
    {"panel": "(e) GBR testing", "lake": "Mueggelsee", "NMAE": 0.0461, "R2": 0.777},
    {"panel": "(e) GBR testing", "lake": "Mueggelsee", "NMAE": 0.0485, "R2": 0.772},
    {"panel": "(e) GBR testing", "lake": "Mueggelsee", "NMAE": 0.051, "R2": 0.757},
    {"panel": "(e) GBR testing", "lake": "Mueggelsee", "NMAE": 0.0496, "R2": 0.764},
    {"panel": "(e) GBR testing", "lake": "Mueggelsee", "NMAE": 0.0612, "R2": 0.703},
    {"panel": "(e) GBR testing", "lake": "Mueggelsee", "NMAE": 0.0645, "R2": 0.665},
    {"panel": "(e) GBR testing", "lake": "Fureso", "NMAE": 0.0683, "R2": 0.885},
    {"panel": "(e) GBR testing", "lake": "Fureso", "NMAE": 0.0703, "R2": 0.88},
    {"panel": "(e) GBR testing", "lake": "Fureso", "NMAE": 0.0722, "R2": 0.875},
    {"panel": "(e) GBR testing", "lake": "Fureso", "NMAE": 0.0741, "R2": 0.873},
    {"panel": "(e) GBR testing", "lake": "Fureso", "NMAE": 0.0761, "R2": 0.867},
    {"panel": "(e) GBR testing", "lake": "Fureso", "NMAE": 0.078, "R2": 0.86},
    {"panel": "(e) GBR testing", "lake": "Fureso", "NMAE": 0.0793, "R2": 0.849},
    {"panel": "(e) GBR testing", "lake": "Fureso", "NMAE": 0.0732, "R2": 0.867},
    {"panel": "(e) GBR testing", "lake": "Fureso", "NMAE": 0.0751, "R2": 0.87},
    {"panel": "(e) GBR testing", "lake": "Fureso", "NMAE": 0.077, "R2": 0.854},
    {"panel": "(e) GBR testing", "lake": "Fureso", "NMAE": 0.0712, "R2": 0.88},
    {"panel": "(e) GBR testing", "lake": "ME", "NMAE": 0.0461, "R2": 0.921},
    {"panel": "(e) GBR testing", "lake": "ME", "NMAE": 0.049, "R2": 0.926},
    {"panel": "(e) GBR testing", "lake": "ME", "NMAE": 0.051, "R2": 0.916},
    {"panel": "(e) GBR testing", "lake": "ME", "NMAE": 0.0529, "R2": 0.911},
    {"panel": "(e) GBR testing", "lake": "ME", "NMAE": 0.0481, "R2": 0.905},
    {"panel": "(e) GBR testing", "lake": "ME", "NMAE": 0.05, "R2": 0.895},
    {"panel": "(e) GBR testing", "lake": "ME", "NMAE": 0.0519, "R2": 0.89},
    {"panel": "(e) GBR testing", "lake": "ME", "NMAE": 0.049, "R2": 0.873},
    {"panel": "(e) GBR testing", "lake": "ME", "NMAE": 0.0515, "R2": 0.877},
    {"panel": "(e) GBR testing", "lake": "ME", "NMAE": 0.0539, "R2": 0.87},
    {"panel": "(e) GBR testing", "lake": "ME", "NMAE": 0.0542, "R2": 0.849},
    {"panel": "(e) GBR testing", "lake": "ME", "NMAE": 0.0548, "R2": 0.839},
    {"panel": "(e) GBR testing", "lake": "Ekoln", "NMAE": 0.0983, "R2": 0.793},
    {"panel": "(e) GBR testing", "lake": "Ekoln", "NMAE": 0.0998, "R2": 0.785},
    {"panel": "(e) GBR testing", "lake": "Ekoln", "NMAE": 0.1011, "R2": 0.78},
    {"panel": "(e) GBR testing", "lake": "Ekoln", "NMAE": 0.0973, "R2": 0.777},
    {"panel": "(e) GBR testing", "lake": "Ekoln", "NMAE": 0.1021, "R2": 0.772},
    {"panel": "(e) GBR testing", "lake": "Ekoln", "NMAE": 0.1044, "R2": 0.774},
    {"panel": "(e) GBR testing", "lake": "Ekoln", "NMAE": 0.0992, "R2": 0.764},
    {"panel": "(e) GBR testing", "lake": "Ekoln", "NMAE": 0.1031, "R2": 0.762},
    {"panel": "(e) GBR testing", "lake": "Ekoln", "NMAE": 0.1006, "R2": 0.757},
    {"panel": "(e) GBR testing", "lake": "Ekoln", "NMAE": 0.105, "R2": 0.757},
    {"panel": "(e) GBR testing", "lake": "Ekoln", "NMAE": 0.104, "R2": 0.742},
    {"panel": "(e) GBR testing", "lake": "Ekoln", "NMAE": 0.1069, "R2": 0.74},
    {"panel": "(e) GBR testing", "lake": "Ekoln", "NMAE": 0.1083, "R2": 0.737},
    {"panel": "(e) GBR testing", "lake": "Ekoln", "NMAE": 0.1108, "R2": 0.729},
    {"panel": "(e) GBR testing", "lake": "Ekoln", "NMAE": 0.1064, "R2": 0.752},
    {"panel": "(e) GBR testing", "lake": "Ekoln", "NMAE": 0.1179, "R2": 0.713},
    {"panel": "(e) GBR testing", "lake": "Ekoln", "NMAE": 0.1172, "R2": 0.688},
    {"panel": "(e) GBR testing", "lake": "Ekoln", "NMAE": 0.116, "R2": 0.685},

    {"panel": "(f) 2-step testing", "lake": "Erken", "NMAE": 0.0688, "R2": 0.767},
    {"panel": "(f) 2-step testing", "lake": "Erken", "NMAE": 0.0708, "R2": 0.762},
    {"panel": "(f) 2-step testing", "lake": "Erken", "NMAE": 0.0727, "R2": 0.76},
    {"panel": "(f) 2-step testing", "lake": "Erken", "NMAE": 0.0698, "R2": 0.747},
    {"panel": "(f) 2-step testing", "lake": "Erken", "NMAE": 0.0717, "R2": 0.744},
    {"panel": "(f) 2-step testing", "lake": "Erken", "NMAE": 0.0737, "R2": 0.747},
    {"panel": "(f) 2-step testing", "lake": "Erken", "NMAE": 0.0746, "R2": 0.737},
    {"panel": "(f) 2-step testing", "lake": "Erken", "NMAE": 0.0721, "R2": 0.73},
    {"panel": "(f) 2-step testing", "lake": "Erken", "NMAE": 0.0772, "R2": 0.727},
    {"panel": "(f) 2-step testing", "lake": "Erken", "NMAE": 0.0678, "R2": 0.747},
    {"panel": "(f) 2-step testing", "lake": "Mueggelsee", "NMAE": 0.0325, "R2": 0.885},
    {"panel": "(f) 2-step testing", "lake": "Mueggelsee", "NMAE": 0.0339, "R2": 0.877},
    {"panel": "(f) 2-step testing", "lake": "Mueggelsee", "NMAE": 0.0349, "R2": 0.87},
    {"panel": "(f) 2-step testing", "lake": "Mueggelsee", "NMAE": 0.0345, "R2": 0.86},
    {"panel": "(f) 2-step testing", "lake": "Mueggelsee", "NMAE": 0.0358, "R2": 0.853},
    {"panel": "(f) 2-step testing", "lake": "Mueggelsee", "NMAE": 0.0372, "R2": 0.847},
    {"panel": "(f) 2-step testing", "lake": "Mueggelsee", "NMAE": 0.0364, "R2": 0.839},
    {"panel": "(f) 2-step testing", "lake": "Fureso", "NMAE": 0.0911, "R2": 0.803},
    {"panel": "(f) 2-step testing", "lake": "Fureso", "NMAE": 0.0927, "R2": 0.788},
    {"panel": "(f) 2-step testing", "lake": "Fureso", "NMAE": 0.094, "R2": 0.783},
    {"panel": "(f) 2-step testing", "lake": "Fureso", "NMAE": 0.096, "R2": 0.781},
    {"panel": "(f) 2-step testing", "lake": "Fureso", "NMAE": 0.0979, "R2": 0.778},
    {"panel": "(f) 2-step testing", "lake": "Fureso", "NMAE": 0.0954, "R2": 0.767},
    {"panel": "(f) 2-step testing", "lake": "Fureso", "NMAE": 0.0969, "R2": 0.77},
    {"panel": "(f) 2-step testing", "lake": "Fureso", "NMAE": 0.0989, "R2": 0.764},
    {"panel": "(f) 2-step testing", "lake": "Fureso", "NMAE": 0.1008, "R2": 0.762},
    {"panel": "(f) 2-step testing", "lake": "Fureso", "NMAE": 0.1004, "R2": 0.754},
    {"panel": "(f) 2-step testing", "lake": "Fureso", "NMAE": 0.1018, "R2": 0.75},
    {"panel": "(f) 2-step testing", "lake": "Fureso", "NMAE": 0.0931, "R2": 0.775},
    {"panel": "(f) 2-step testing", "lake": "ME", "NMAE": 0.0481, "R2": 0.899},
    {"panel": "(f) 2-step testing", "lake": "ME", "NMAE": 0.0504, "R2": 0.899},
    {"panel": "(f) 2-step testing", "lake": "ME", "NMAE": 0.0523, "R2": 0.894},
    {"panel": "(f) 2-step testing", "lake": "ME", "NMAE": 0.0543, "R2": 0.889},
    {"panel": "(f) 2-step testing", "lake": "ME", "NMAE": 0.0562, "R2": 0.884},
    {"panel": "(f) 2-step testing", "lake": "ME", "NMAE": 0.0494, "R2": 0.88},
    {"panel": "(f) 2-step testing", "lake": "ME", "NMAE": 0.0514, "R2": 0.873},
    {"panel": "(f) 2-step testing", "lake": "ME", "NMAE": 0.0533, "R2": 0.868},
    {"panel": "(f) 2-step testing", "lake": "ME", "NMAE": 0.0558, "R2": 0.863},
    {"panel": "(f) 2-step testing", "lake": "ME", "NMAE": 0.0578, "R2": 0.873},
    {"panel": "(f) 2-step testing", "lake": "ME", "NMAE": 0.0543, "R2": 0.856},
    {"panel": "(f) 2-step testing", "lake": "ME", "NMAE": 0.0572, "R2": 0.853},
    {"panel": "(f) 2-step testing", "lake": "ME", "NMAE": 0.0591, "R2": 0.846},
    {"panel": "(f) 2-step testing", "lake": "ME", "NMAE": 0.062, "R2": 0.84},
    {"panel": "(f) 2-step testing", "lake": "Ekoln", "NMAE": 0.1284, "R2": 0.651},
    {"panel": "(f) 2-step testing", "lake": "Ekoln", "NMAE": 0.1303, "R2": 0.647},
    {"panel": "(f) 2-step testing", "lake": "Ekoln", "NMAE": 0.1323, "R2": 0.644},
    {"panel": "(f) 2-step testing", "lake": "Ekoln", "NMAE": 0.1348, "R2": 0.641},
    {"panel": "(f) 2-step testing", "lake": "Ekoln", "NMAE": 0.1367, "R2": 0.639},
    {"panel": "(f) 2-step testing", "lake": "Ekoln", "NMAE": 0.1387, "R2": 0.63},
    {"panel": "(f) 2-step testing", "lake": "Ekoln", "NMAE": 0.1315, "R2": 0.63},
    {"panel": "(f) 2-step testing", "lake": "Ekoln", "NMAE": 0.1342, "R2": 0.623},
    {"panel": "(f) 2-step testing", "lake": "Ekoln", "NMAE": 0.1348, "R2": 0.606},
    {"panel": "(f) 2-step testing", "lake": "Ekoln", "NMAE": 0.1396, "R2": 0.596},
    {"panel": "(f) 2-step testing", "lake": "Ekoln", "NMAE": 0.1416, "R2": 0.59},
    {"panel": "(f) 2-step testing", "lake": "Ekoln", "NMAE": 0.1435, "R2": 0.586},
    {"panel": "(f) 2-step testing", "lake": "Ekoln", "NMAE": 0.1474, "R2": 0.608},
    {"panel": "(f) 2-step testing", "lake": "Ekoln", "NMAE": 0.1489, "R2": 0.582},
    {"panel": "(f) 2-step testing", "lake": "Ekoln", "NMAE": 0.1425, "R2": 0.569},
    {"panel": "(f) 2-step testing", "lake": "Ekoln", "NMAE": 0.1454, "R2": 0.562},
    {"panel": "(f) 2-step testing", "lake": "Ekoln", "NMAE": 0.1483, "R2": 0.566},
    {"panel": "(f) 2-step testing", "lake": "Ekoln", "NMAE": 0.1522, "R2": 0.554}
  ]},
  "facet": {
    "field": "panel",
    "type": "nominal",
    "sort": ["(a) LSTM training", "(b) GBR training", "(c) 2-step training", "(d) LSTM testing", "(e) GBR testing", "(f) 2-step testing"],
    "header": {"title": null, "labelFontSize": 20, "labelFont": "Liberation Serif", "labelColor": "#262626", "labelPadding": 1}
  },
  "columns": 3,
  "spacing": {"column": 58, "row": 37},
  "spec": {
    "width": 279,
    "height": 280,
    "mark": {"type": "circle", "size": 48, "opacity": 1, "stroke": "white", "strokeWidth": 0.75},
    "encoding": {
      "x": {"field": "NMAE", "type": "quantitative",
        "scale": {"domain": [0.026, 0.186], "nice": false, "zero": false},
        "axis": {"values": [0.05, 0.1, 0.15], "format": ".2f", "title": "NMAE", "labelPadding": 14, "titlePadding": 3}},
      "y": {"field": "R2", "type": "quantitative",
        "scale": {"domain": [0.13, 0.99], "nice": false, "zero": false},
        "axis": {"values": [0.2, 0.4, 0.6, 0.8], "format": ".1f", "title": "R2", "labelPadding": 15, "titlePadding": 4}},
      "color": {"field": "lake", "type": "nominal",
        "scale": {"domain": ["Erken", "Mueggelsee", "Fureso", "ME", "Ekoln"],
                  "range": ["#4C72B0", "#DD8452", "#55A868", "#C44E52", "#8172B3"]},
        "legend": {"title": null, "orient": "none", "legendX": 985, "legendY": 72,
                   "symbolType": "circle", "symbolSize": 40, "symbolStrokeWidth": 0,
                   "labelFontSize": 18.5, "labelFont": "Liberation Serif", "labelColor": "#262626",
                   "labelOffset": 28, "rowPadding": 7.5}}
    }
  },
  "config": {
    "font": "Liberation Serif",
    "view": {"fill": "#EAEAF2", "stroke": null},
    "axis": {
      "grid": true, "gridColor": "white", "gridWidth": 1.3, "domain": false, "ticks": false,
      "labelFont": "Liberation Serif", "labelFontSize": 18, "labelColor": "#262626",
      "titleFont": "Liberation Serif", "titleFontSize": 20, "titleFontWeight": "normal", "titleColor": "#262626"
    }
  }
}
